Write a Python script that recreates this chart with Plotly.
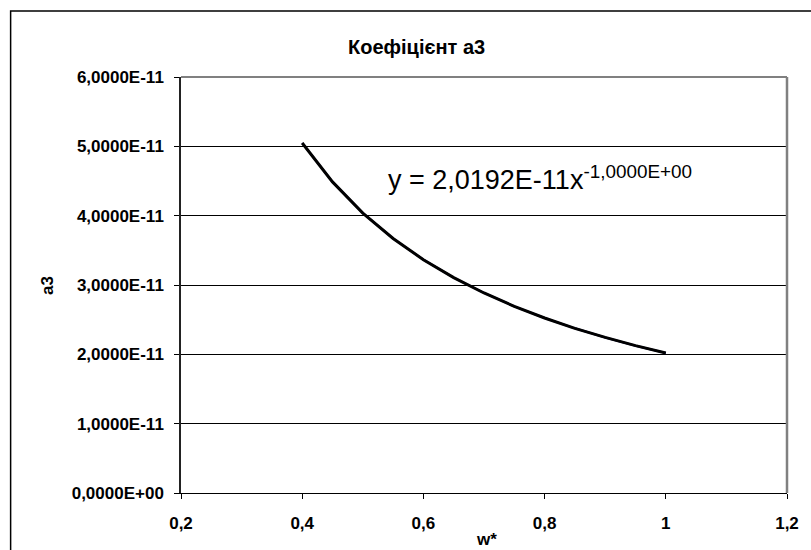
import plotly.graph_objects as go

# data
w_vals = [0.40, 0.45, 0.50, 0.55, 0.60, 0.65, 0.70, 0.75, 0.80, 0.85, 0.90, 0.95, 1.00]
a3_vals = [5.048e-11, 4.487e-11, 4.038e-11, 3.671e-11, 3.365e-11, 3.106e-11, 2.885e-11,
           2.692e-11, 2.524e-11, 2.375e-11, 2.244e-11, 2.125e-11, 2.019e-11]
trend_vals = [5.048e-11, 4.487e-11, 4.038e-11, 3.671e-11, 3.365e-11, 3.106e-11, 2.885e-11,
              2.692e-11, 2.524e-11, 2.375e-11, 2.244e-11, 2.125e-11, 2.019e-11]

x_ticks = [0.2, 0.4, 0.6, 0.8, 1.0, 1.2]
x_ticktext = ["0,2", "0,4", "0,6", "0,8", "1", "1,2"]
y_ticks = [0, 1e-11, 2e-11, 3e-11, 4e-11, 5e-11, 6e-11]
y_ticktext = ["0,0000E+00", "1,0000E-11", "2,0000E-11", "3,0000E-11",
              "4,0000E-11", "5,0000E-11", "6,0000E-11"]

title_text = "Коефіцієнт а3"
x_label = "w*"
y_label = "a3"
equation = "y = 2,0192E-11x<sup>-1,0000E+00</sup>"

FONT = "Liberation Sans, Arial, sans-serif"

fig = go.Figure()
fig.add_trace(go.Scatter(x=w_vals, y=a3_vals, mode="lines",
                         line=dict(color="#000080", width=2), showlegend=False))
fig.add_trace(go.Scatter(x=w_vals, y=trend_vals, mode="lines",
                         line=dict(color="black", width=3), showlegend=False))

L, R, T, B = 181, 20, 77, 57
W, H = 811, 550
pw = W - L - R
ph = H - T - B

def px(x):
    return (x - L) / pw

def py(y):
    return 1 - (y - T) / ph

fig.update_layout(
    width=W, height=H,
    margin=dict(l=L, r=R, t=T, b=B),
    paper_bgcolor="white", plot_bgcolor="white",
    font=dict(family=FONT, color="black"),
    xaxis=dict(range=[0.2, 1.2], tickvals=x_ticks, ticktext=x_ticktext,
               showgrid=False, zeroline=False, showline=True, linecolor="black",
               linewidth=1, ticks="outside", ticklen=5, tickcolor="black",
               ticklabelstandoff=10,
               tickfont=dict(family=FONT, size=17, color="black", weight="bold")),
    yaxis=dict(range=[0, 6e-11], tickvals=y_ticks, ticktext=y_ticktext,
               showgrid=True, gridcolor="black", gridwidth=1, zeroline=False,
               showline=True, linecolor="#222222", linewidth=1.5,
               ticks="outside", ticklen=5, tickcolor="black",
               ticklabelstandoff=7,
               tickfont=dict(family=FONT, size=17, color="black", weight="bold")),
    shapes=[
        dict(type="line", xref="paper", yref="paper", x0=0, x1=1, y0=1, y1=1,
             line=dict(color="#808080", width=2), layer="above"),
        dict(type="line", xref="paper", yref="paper", x0=1, x1=1, y0=0, y1=1,
             line=dict(color="#808080", width=2.5), layer="above"),
        dict(type="rect", xref="paper", yref="paper",
             x0=px(9.5), x1=px(840), y0=py(11), y1=py(600),
             line=dict(color="black", width=1.5), fillcolor="rgba(0,0,0,0)"),
    ],
    annotations=[
        dict(text=title_text, xref="paper", yref="paper", x=px(418), y=py(47),
             showarrow=False, xanchor="center", yanchor="middle",
             font=dict(family=FONT, size=20, color="black", weight="bold")),
        dict(text=y_label, xref="paper", yref="paper", x=px(46), y=py(285),
             showarrow=False, textangle=-90, xanchor="center", yanchor="middle",
             font=dict(family=FONT, size=17, color="black", weight="bold")),
        dict(text=x_label, xref="paper", yref="paper", x=px(489), y=py(539),
             showarrow=False, xanchor="center", yanchor="middle",
             font=dict(family=FONT, size=17, color="black", weight="bold")),
        dict(text=equation, xref="paper", yref="paper", x=px(387), y=py(197),
             showarrow=False, xanchor="left", yanchor="bottom",
             font=dict(family=FONT, size=27, color="black")),
    ],
)

fig.write_html("out.html")
